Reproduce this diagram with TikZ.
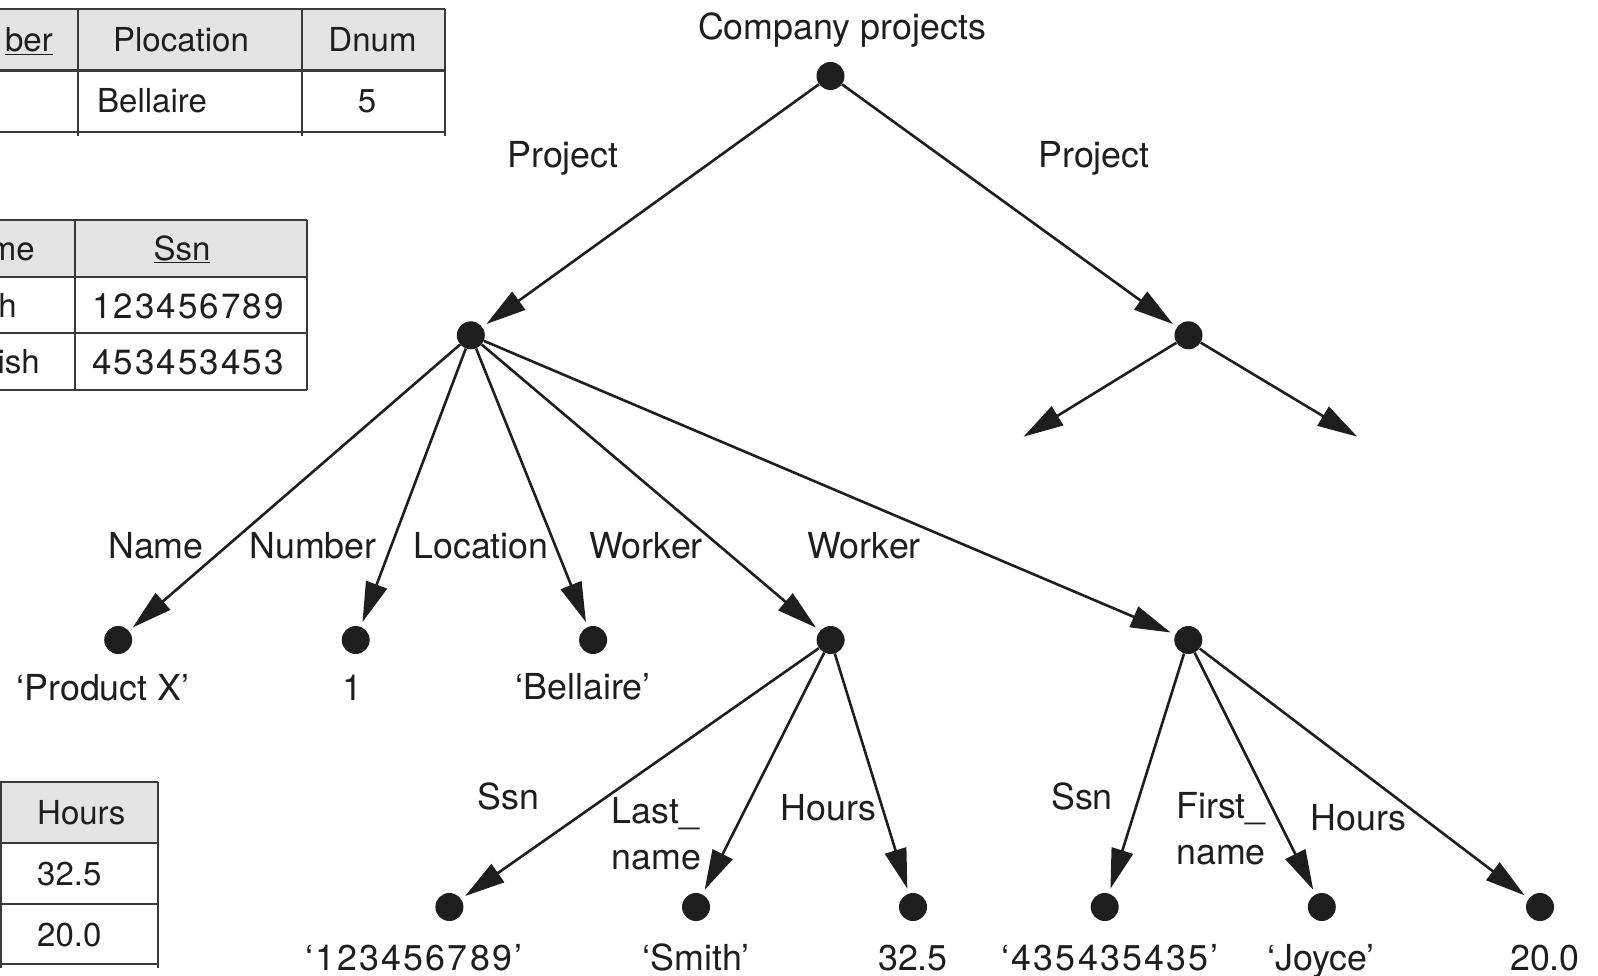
\documentclass[tikz,border=0pt]{standalone}
\usepackage{fontspec}
\setmainfont{TeX Gyre Heros}
\newfontfamily\digitfont[Ligatures=TeX, LetterSpace=6]{TeX Gyre Heros}
\usetikzlibrary{arrows.meta}
\definecolor{ink}{HTML}{1E1E1E}
\definecolor{rulegray}{HTML}{3A3A3A}
\definecolor{headgray}{HTML}{E4E4E4}

\begin{document}
\begin{tikzpicture}[
  x=1pt, y=-1pt,
  >={Triangle[length=40pt, width=22pt]},
  every node/.style={text=ink},
  dot/.style={circle, fill=ink, inner sep=0pt, minimum size=28pt},
  lbl/.style={font=\fontsize{35.8}{40}\selectfont, anchor=base, inner sep=0pt},
  tab/.style={font=\fontsize{33}{38}\selectfont, anchor=base, inner sep=0pt},
  tabnum/.style={font=\fontsize{35}{40}\selectfont\digitfont, anchor=base, inner sep=0pt},
  edge/.style={draw=ink, line width=2.6pt, ->, shorten >=5pt},
  tabline/.style={draw=rulegray, line width=2.4pt},
]

\useasboundingbox (0,0) rectangle (1598,976);

% ============ Tables (cropped, left side) ============
% Project table
\fill[headgray] (0,9) rectangle (445,70.5);
\draw[tabline] (0,9) -- (445,9) (0,70.5) -- (445,70.5) (0,132) -- (445,132);
\foreach \x in {77.7, 301.7, 445} {
  \draw[tabline] (\x,9) -- (\x,136);
}
\node[tab, anchor=base east] (t1a) at (53,52) {\underline{ber}};
\node[tab] (t1b) at (181,52) {Plocation};
\node[tab] (t1c) at (372.5,52) {Dnum};
\node[tab, anchor=base west] (t1d) at (97,113) {Bellaire};
\node[tab] (t1e) at (367,113) {5};

% Employee table
\fill[headgray] (0,220) rectangle (307,277);
\draw[tabline] (0,220) -- (307,220) (0,277) -- (307,277)
  (0,333) -- (307,333) (0,390) -- (307,390);
\foreach \x in {75, 307} {
  \draw[tabline] (\x,220) -- (\x,390);
}
\node[tab, anchor=base east] (t2a) at (35,260.5) {me};
\node[tab] (t2b) at (182,260.5) {\underline{Ssn}};
\node[tab, anchor=base east] (t2c) at (17,317) {h};
\node[tab, anchor=base east] (t2d) at (40,373.5) {ish};
\node[tabnum] (t2e) at (188,318) {123456789};
\node[tabnum] (t2f) at (188,374.5) {453453453};

% Works_on table
\fill[headgray] (0,782) rectangle (158,843);
\draw[tabline] (0,782) -- (158,782) (0,843) -- (158,843)
  (0,904) -- (158,904) (0,964) -- (158,964);
\foreach \x in {1, 158} {
  \draw[tabline] (\x,782) -- (\x,968);
}
\node[tab, anchor=base west] (t3a) at (37,824.5) {Hours};
\node[tab, anchor=base west] (t3b) at (37,885.5) {32.5};
\node[tab, anchor=base west] (t3c) at (37,946) {20.0};

% ============ Tree ============
\node[dot] (root) at (830.5,76) {};
\node[lbl] (ltitle) at (842,40) {Company projects};

\node[dot] (proj1) at (470.8,335.3) {};
\node[dot] (proj2) at (1188.5,335.3) {};
\node[lbl] (lproj1) at (563,168) {Project};
\node[lbl] (lproj2) at (1094,168) {Project};
\coordinate (proj2l) at (1023.5,436.7);
\coordinate (proj2r) at (1357.3,436.7);

% children of the first project
\node[dot] (pname) at (118.2,640) {};
\node[dot] (pnum)  at (355.7,640) {};
\node[dot] (ploc)  at (593.1,640) {};
\node[dot] (work1) at (830.6,640) {};
\node[dot] (work2) at (1188.3,640) {};

\node[lbl] (lname)  at (156,558) {Name};
\node[lbl] (lnum)   at (313,558) {Number};
\node[lbl] (lloc)   at (481,558) {Location};
\node[lbl] (lwork1) at (646,558) {Worker};
\node[lbl] (lwork2) at (864,558) {Worker};

\node[lbl] (vname) at (103,700) {`Product X'};
\node[lbl] (vnum)  at (352.6,700) {1};
\node[lbl] (vloc)  at (583,699) {`Bellaire'};

% children of the workers
\node[dot] (w1ssn)   at (449.4,907) {};
\node[dot] (w1last)  at (696,907) {};
\node[dot] (w1hrs)   at (913,907) {};
\node[dot] (w2ssn)   at (1104.7,907) {};
\node[dot] (w2first) at (1321.8,907) {};
\node[dot] (w2hrs)   at (1540,907) {};

\node[lbl] (lw1ssn) at (508.5,809) {Ssn};
\node[lbl, anchor=base west] (lw1lasta) at (611.5,823.5) {Last\_};
\node[lbl, anchor=base west] (lw1lastb) at (611.5,869) {name};
\node[lbl] (lw1hrs) at (828.5,820) {Hours};
\node[lbl] (lw2ssn) at (1082,809) {Ssn};
\node[lbl, anchor=base west] (lw2firsta) at (1176,818) {First\_};
\node[lbl, anchor=base west] (lw2firstb) at (1176,864) {name};
\node[lbl] (lw2hrs) at (1358.5,830.6) {Hours};

\node[lbl] (vw1ssn)   at (413.8,970) {\digitfont`123456789'};
\node[lbl] (vw1last)  at (696,970) {`Smith'};
\node[lbl] (vw1hrs)   at (913,970) {32.5};
\node[lbl] (vw2ssn)   at (1110,970) {\digitfont`435435435'};
\node[lbl] (vw2first) at (1321,970) {`Joyce'};
\node[lbl] (vw2hrs)   at (1545,970) {20.0};

% Edges
\draw[edge] (root) -- (proj1);
\draw[edge] (root) -- (proj2);
\draw[edge, shorten >=0pt] (proj2) -- (proj2l);
\draw[edge, shorten >=0pt] (proj2) -- (proj2r);
\foreach \t in {pname, pnum, ploc, work1, work2} {
  \draw[edge] (proj1) -- (\t);
}
\foreach \t in {w1ssn, w1last, w1hrs} {
  \draw[edge] (work1) -- (\t);
}
\foreach \t in {w2ssn, w2first, w2hrs} {
  \draw[edge] (work2) -- (\t);
}

\end{tikzpicture}
\end{document}
